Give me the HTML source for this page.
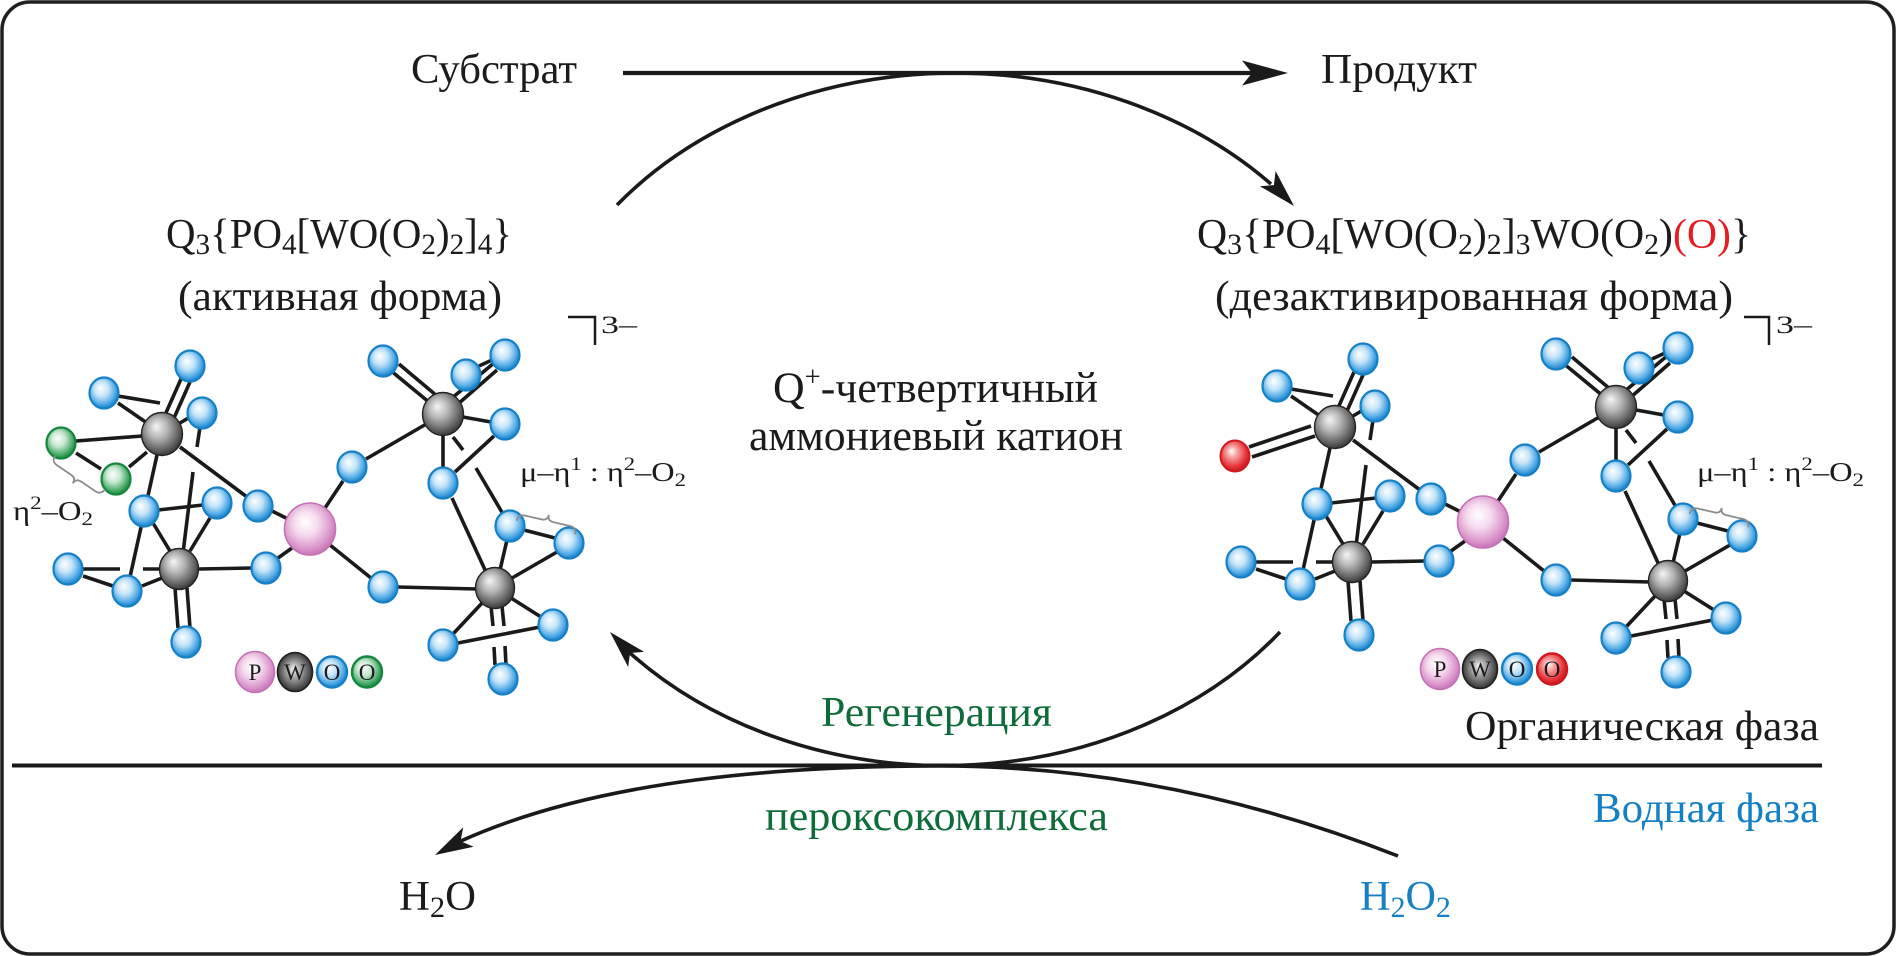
<!DOCTYPE html>
<html>
<head>
<meta charset="utf-8">
<style>
  html,body{margin:0;padding:0;background:#fff;}
  svg{display:block;}
  text{font-family:"Liberation Serif","DejaVu Serif",serif;fill:#1c1a1b;}
</style>
</head>
<body>
<svg width="1896" height="956" viewBox="0 0 1896 956" xmlns="http://www.w3.org/2000/svg">
  <defs>
    <radialGradient id="gO" cx="0.45" cy="0.42" r="0.58" fx="0.38" fy="0.34">
      <stop offset="0" stop-color="#ffffff"/>
      <stop offset="0.42" stop-color="#c4e4f8"/>
      <stop offset="0.75" stop-color="#5db1e8"/>
      <stop offset="1" stop-color="#1782cc"/>
    </radialGradient>
    <radialGradient id="gG" cx="0.45" cy="0.42" r="0.58" fx="0.38" fy="0.34">
      <stop offset="0" stop-color="#ffffff"/>
      <stop offset="0.42" stop-color="#c6e7cf"/>
      <stop offset="0.75" stop-color="#5cb578"/>
      <stop offset="1" stop-color="#178a40"/>
    </radialGradient>
    <radialGradient id="gR" cx="0.45" cy="0.42" r="0.58" fx="0.38" fy="0.34">
      <stop offset="0" stop-color="#ffffff"/>
      <stop offset="0.3" stop-color="#f7a5a5"/>
      <stop offset="0.75" stop-color="#e8383d"/>
      <stop offset="1" stop-color="#c8161c"/>
    </radialGradient>
    <radialGradient id="gW" cx="0.45" cy="0.42" r="0.6" fx="0.36" fy="0.32">
      <stop offset="0" stop-color="#f6f6f6"/>
      <stop offset="0.4" stop-color="#b5b5b5"/>
      <stop offset="0.8" stop-color="#606060"/>
      <stop offset="1" stop-color="#333333"/>
    </radialGradient>
    <radialGradient id="gW2" cx="0.5" cy="0.5" r="0.55" fx="0.45" fy="0.42">
      <stop offset="0" stop-color="#eeeeee"/>
      <stop offset="0.5" stop-color="#8a8a8a"/>
      <stop offset="1" stop-color="#222222"/>
    </radialGradient>
    <radialGradient id="gP" cx="0.45" cy="0.42" r="0.58" fx="0.4" fy="0.36">
      <stop offset="0" stop-color="#ffffff"/>
      <stop offset="0.4" stop-color="#f6dcef"/>
      <stop offset="0.8" stop-color="#dc98cc"/>
      <stop offset="1" stop-color="#c974b9"/>
    </radialGradient>

    <g id="bonds" stroke="#1a1a1a" stroke-width="3.6" fill="none" stroke-linecap="butt">
      <path d="M118 396L160 403 M118 403L147 423 M165 415L181 379 M174 418L190 382 M180 423L190 417 M200 427L197 447 M193 472L183 553 M180 447L247 497 M157 455L130 577 M158 510L203 505 M153 523L170 551 M210 518L190 551 M83 569L120 569 M143 569L162 569 M83 576L113 586 M142 586L162 578 M199 569L252 568 M175 588L178 628 M187 588L190 628 M272 511L288 519 M278 558L292 548 M325 508L343 481 M330 545L371 578 M366 459L428 423 M390 370L430 403 M399 364L437 396 M452 398L494 363 M458 404L497 370 M479 366L492 360 M463 417L491 422 M443 434L443 469 M453 437L463 450 M494 436L455 472 M476 468L503 514 M452 498L486 572 M507 540L500 570 M524 530L555 538 M557 552L512 578 M397 587L477 589 M511 598L541 617 M483 602L453 634 M458 643L540 627 M491 606L493 626 M502 606L504 626 M494 647L495 665 M505 646L506 665"/>
    </g>

    <g id="spheres">
      <g fill="url(#gO)" stroke="#1680c6" stroke-width="2.2">
        <ellipse cx="190" cy="366" rx="14.5" ry="15.5"/>
        <ellipse cx="104" cy="393" rx="14.5" ry="15.5"/>
        <ellipse cx="202" cy="413" rx="14.5" ry="15.5"/>
        <ellipse cx="144" cy="511" rx="14.5" ry="15.5"/>
        <ellipse cx="217" cy="503" rx="14.5" ry="15.5"/>
        <ellipse cx="258" cy="506" rx="14.5" ry="15.5"/>
        <ellipse cx="352" cy="467" rx="14.5" ry="15.5"/>
        <ellipse cx="68" cy="569" rx="14.5" ry="15.5"/>
        <ellipse cx="127" cy="591" rx="14.5" ry="15.5"/>
        <ellipse cx="266" cy="568" rx="14.5" ry="15.5"/>
        <ellipse cx="383" cy="587" rx="14.5" ry="15.5"/>
        <ellipse cx="186" cy="642" rx="14.5" ry="15.5"/>
        <ellipse cx="383" cy="361" rx="14.5" ry="15.5"/>
        <ellipse cx="466" cy="375" rx="14.5" ry="15.5"/>
        <ellipse cx="505" cy="355" rx="14.5" ry="15.5"/>
        <ellipse cx="505" cy="424" rx="14.5" ry="15.5"/>
        <ellipse cx="443" cy="483" rx="14.5" ry="15.5"/>
        <ellipse cx="510" cy="526" rx="14.5" ry="15.5"/>
        <ellipse cx="569" cy="543" rx="14.5" ry="15.5"/>
        <ellipse cx="553" cy="625" rx="14.5" ry="15.5"/>
        <ellipse cx="443" cy="645" rx="14.5" ry="15.5"/>
        <ellipse cx="503" cy="679" rx="14.5" ry="15.5"/>
      </g>
      <g fill="url(#gW)" stroke="#222" stroke-width="1.4">
        <ellipse cx="162" cy="434" rx="20.5" ry="21.5"/>
        <ellipse cx="179" cy="569" rx="19.5" ry="20.5"/>
        <ellipse cx="443" cy="414" rx="20.5" ry="21.5"/>
        <ellipse cx="495" cy="588" rx="19.5" ry="20.5"/>
      </g>
      <ellipse cx="310" cy="529" rx="25.5" ry="26" fill="url(#gP)" stroke="#c571b5" stroke-width="1.6"/>
    </g>
  </defs>

  <!-- frame -->
  <rect x="2" y="2" width="1892" height="952" rx="28" ry="28" fill="none" stroke="#1f1f1f" stroke-width="3.5"/>

  <!-- phase line -->
  <line x1="12" y1="765.5" x2="1822" y2="765.5" stroke="#1a1a1a" stroke-width="4"/>

  <!-- substrate -> product arrow -->
  <line x1="623" y1="73" x2="1255" y2="73" stroke="#1a1a1a" stroke-width="4.2"/>
  <polygon points="1288,73 1242,60.5 1252,73 1242,85.5" fill="#1a1a1a"/>

  <!-- top arc -->
  <path d="M617 205 A430 345 0 0 1 1271 184" fill="none" stroke="#1a1a1a" stroke-width="3.6"/>
  <polygon points="1294,206 1259.8,186.2 1273.9,185.1 1275.6,171" fill="#1a1a1a"/>

  <!-- bottom arc of cycle -->
  <path d="M1280 632 A425 345 0 0 1 630 653" fill="none" stroke="#1a1a1a" stroke-width="3.6"/>
  <polygon points="610,632 644.2,651.9 630,653 628.2,667.1" fill="#1a1a1a"/>

  <!-- aqueous arc -->
  <path d="M1398 856 Q1169 766 940 766 C790 766 600 778 460.5 841.2" fill="none" stroke="#1a1a1a" stroke-width="3.6"/>
  <polygon points="435,855 463.2,827.3 460.5,841.2 473.6,846.7" fill="#1a1a1a"/>

  <!-- texts top -->
  <text x="411" y="83" font-size="42" textLength="166" lengthAdjust="spacingAndGlyphs">Субстрат</text>
  <text x="1321" y="83" font-size="42" textLength="156" lengthAdjust="spacingAndGlyphs">Продукт</text>

  <!-- left formula -->
  <text x="166" y="248" font-size="42" textLength="346" lengthAdjust="spacingAndGlyphs">Q<tspan dy="6" font-size="30">3</tspan><tspan dy="-6">{PO</tspan><tspan dy="6" font-size="30">4</tspan><tspan dy="-6">[WO(O</tspan><tspan dy="6" font-size="30">2</tspan><tspan dy="-6">)</tspan><tspan dy="6" font-size="30">2</tspan><tspan dy="-6">]</tspan><tspan dy="6" font-size="30">4</tspan><tspan dy="-6">}</tspan></text>
  <text x="178" y="310" font-size="42" textLength="324" lengthAdjust="spacingAndGlyphs">(активная форма)</text>
  <path d="M568 317 H595 V345" fill="none" stroke="#1a1a1a" stroke-width="2.5"/>
  <text x="601" y="333" font-size="25" textLength="36" lengthAdjust="spacingAndGlyphs">3–</text>

  <!-- right formula -->
  <text x="1197" y="248" font-size="42" textLength="554" lengthAdjust="spacingAndGlyphs">Q<tspan dy="6" font-size="30">3</tspan><tspan dy="-6">{PO</tspan><tspan dy="6" font-size="30">4</tspan><tspan dy="-6">[WO(O</tspan><tspan dy="6" font-size="30">2</tspan><tspan dy="-6">)</tspan><tspan dy="6" font-size="30">2</tspan><tspan dy="-6">]</tspan><tspan dy="6" font-size="30">3</tspan><tspan dy="-6">WO(O</tspan><tspan dy="6" font-size="30">2</tspan><tspan dy="-6">)</tspan><tspan fill="#e31e24" style="fill:#e31e24">(O)</tspan><tspan>}</tspan></text>
  <text x="1215" y="310" font-size="42" textLength="518" lengthAdjust="spacingAndGlyphs">(дезактивированная форма)</text>
  <path d="M1744 317 H1769 V345" fill="none" stroke="#1a1a1a" stroke-width="2.5"/>
  <text x="1776" y="333" font-size="25" textLength="36" lengthAdjust="spacingAndGlyphs">3–</text>

  <!-- center text -->
  <text x="773" y="402" font-size="43" textLength="325" lengthAdjust="spacingAndGlyphs">Q<tspan dy="-16" font-size="28">+</tspan><tspan dy="16">-четвертичный</tspan></text>
  <text x="749" y="450" font-size="43" textLength="374" lengthAdjust="spacingAndGlyphs">аммониевый катион</text>

  <text x="821" y="726" font-size="42" style="fill:#0f6b3a" textLength="231" lengthAdjust="spacingAndGlyphs">Регенерация</text>
  <text x="765" y="830" font-size="42" style="fill:#0f6b3a" textLength="343" lengthAdjust="spacingAndGlyphs">пероксокомплекса</text>

  <text x="1465" y="740" font-size="42" textLength="354" lengthAdjust="spacingAndGlyphs">Органическая фаза</text>
  <text x="1593" y="822" font-size="42" style="fill:#1580c3" textLength="226" lengthAdjust="spacingAndGlyphs">Водная фаза</text>

  <text x="399" y="910" font-size="42" textLength="77" lengthAdjust="spacingAndGlyphs">H<tspan dy="7" font-size="30">2</tspan><tspan dy="-7">O</tspan></text>
  <text x="1360" y="910" font-size="42" style="fill:#1580c3" textLength="91" lengthAdjust="spacingAndGlyphs">H<tspan dy="7" font-size="30">2</tspan><tspan dy="-7">O</tspan><tspan dy="7" font-size="30">2</tspan></text>

  <!-- LEFT MOLECULE -->
  <g>
    <use href="#bonds"/>
    <path d="M76 441L142 436 M76 453L101 469 M129 467L147 452" stroke="#1a1a1a" stroke-width="3.6" fill="none"/>
    <use href="#spheres"/>
    <g fill="url(#gG)" stroke="#15863e" stroke-width="2.2">
      <ellipse cx="61" cy="443" rx="14.5" ry="15.5"/>
      <ellipse cx="116" cy="479" rx="14.5" ry="15.5"/>
    </g>
    <!-- braces -->
    <path transform="translate(53,459) rotate(34)" d="M0 -4 Q0 3 7 3 L24 3 Q30 3 30 9 Q30 3 36 3 L53 3 Q60 3 60 -4" fill="none" stroke="#8c8c8c" stroke-width="1.8"/>
    <path transform="translate(518,515) rotate(13)" d="M0 6 Q0 -1 7 -1 L24 -1 Q30 -1 30 -7 Q30 -1 36 -1 L53 -1 Q60 -1 60 6" fill="none" stroke="#8c8c8c" stroke-width="1.8"/>
    <text x="13" y="520" font-size="27" textLength="80" lengthAdjust="spacingAndGlyphs">η<tspan dy="-11" font-size="19">2</tspan><tspan dy="11">–O</tspan><tspan dy="5" font-size="19">2</tspan></text>
    <text x="520" y="481" font-size="27" textLength="166" lengthAdjust="spacingAndGlyphs">μ–η<tspan dy="-11" font-size="19">1</tspan><tspan dy="11"> : η</tspan><tspan dy="-11" font-size="19">2</tspan><tspan dy="11">–O</tspan><tspan dy="5" font-size="19">2</tspan></text>

    <!-- legend -->
    <ellipse cx="255" cy="672" rx="19.5" ry="20.5" fill="url(#gP)" stroke="#c571b5" stroke-width="1.6"/>
    <ellipse cx="295" cy="672" rx="17.5" ry="19.5" fill="url(#gW2)" stroke="#1e1e1e" stroke-width="1.6"/>
    <ellipse cx="332" cy="672" rx="15" ry="15.5" fill="url(#gO)" stroke="#1680c6" stroke-width="2.4"/>
    <ellipse cx="367" cy="672" rx="15" ry="15.5" fill="url(#gG)" stroke="#15863e" stroke-width="2.4"/>
    <text x="255" y="680" font-size="23" text-anchor="middle">P</text>
    <text x="295" y="680" font-size="23" text-anchor="middle">W</text>
    <text x="332" y="680" font-size="23" text-anchor="middle">O</text>
    <text x="367" y="680" font-size="23" text-anchor="middle">O</text>
  </g>

  <!-- RIGHT MOLECULE -->
  <g transform="translate(1173,-7)">
    <use href="#bonds"/>
    <path d="M76 454L138 433 M79 464L142 443" stroke="#1a1a1a" stroke-width="3.6" fill="none"/>
    <use href="#spheres"/>
    <ellipse cx="62" cy="463" rx="14.5" ry="15.5" fill="url(#gR)" stroke="#d01820" stroke-width="2"/>
    <path transform="translate(518,515) rotate(13)" d="M0 6 Q0 -1 7 -1 L24 -1 Q30 -1 30 -7 Q30 -1 36 -1 L53 -1 Q60 -1 60 6" fill="none" stroke="#8c8c8c" stroke-width="1.8"/>
  </g>
  <text x="1697" y="481" font-size="27" textLength="167" lengthAdjust="spacingAndGlyphs">μ–η<tspan dy="-11" font-size="19">1</tspan><tspan dy="11"> : η</tspan><tspan dy="-11" font-size="19">2</tspan><tspan dy="11">–O</tspan><tspan dy="5" font-size="19">2</tspan></text>

  <!-- right legend -->
  <ellipse cx="1440" cy="669" rx="19.5" ry="20.5" fill="url(#gP)" stroke="#c571b5" stroke-width="1.6"/>
  <ellipse cx="1480" cy="669" rx="17.5" ry="19.5" fill="url(#gW2)" stroke="#1e1e1e" stroke-width="1.6"/>
  <ellipse cx="1517" cy="669" rx="15" ry="15.5" fill="url(#gO)" stroke="#1680c6" stroke-width="2.4"/>
  <ellipse cx="1552" cy="669" rx="15" ry="15.5" fill="url(#gR)" stroke="#d01820" stroke-width="2.4"/>
  <text x="1440" y="677" font-size="23" text-anchor="middle">P</text>
  <text x="1480" y="677" font-size="23" text-anchor="middle">W</text>
  <text x="1517" y="677" font-size="23" text-anchor="middle">O</text>
  <text x="1552" y="677" font-size="23" text-anchor="middle">O</text>
</svg>
</body>
</html>
